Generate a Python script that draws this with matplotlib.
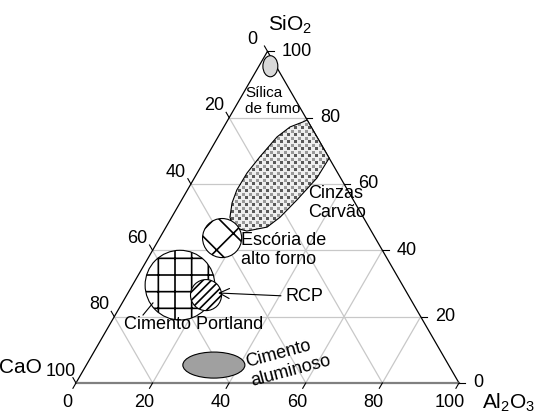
import numpy as np
import matplotlib
matplotlib.use("Agg")
import matplotlib.pyplot as plt
from matplotlib.patches import Polygon, Circle, Ellipse

plt.rcParams['font.family'] = ['Liberation Sans', 'DejaVu Sans']
plt.rcParams['mathtext.fontset'] = 'custom'
plt.rcParams['mathtext.rm'] = 'Liberation Sans'
plt.rcParams['mathtext.default'] = 'regular'
plt.rcParams['hatch.linewidth'] = 1.2

# grid / tick values (percent)
ticks = [0, 20, 40, 60, 80, 100]
grid_vals = [20, 40, 60, 80]

# regions, compositions given as (CaO, SiO2, Al2O3)
silica_center = (1.5, 95.5, 3.0)
silica_size = (3.9, 5.5)

cinzas_outline = [
    (0.0, 79.3, 20.7), (0.0, 67.8, 32.2), (6.2, 61.8, 32.0), (14.7, 55.2, 30.1),
    (21.7, 50.0, 28.3), (26.6, 47.0, 26.4), (32.5, 45.8, 21.7), (35.5, 47.0, 17.5),
    (34.8, 50.0, 15.2), (32.1, 54.3, 13.6), (28.9, 58.2, 12.9), (23.7, 63.3, 13.0),
    (18.0, 68.1, 13.9), (10.4, 74.2, 15.4), (5.5, 77.2, 17.3), (1.4, 78.7, 19.9),
]

escoria_center = (40.0, 43.7, 16.3)
escoria_radius = 5.1

portland_center = (58.1, 29.5, 12.4)
portland_radius = 9.1

rcp_center = (52.8, 26.5, 20.7)
rcp_radius = 4.05

aluminoso_center = (61.3, 5.4, 33.3)
aluminoso_size = (16.2, 6.8)


def tern(ca, si, al):
    s = ca + si + al
    si, al = si / s * 100, al / s * 100
    return al + si / 2, si * np.sqrt(3) / 2


fig = plt.figure(figsize=(5.38, 4.16), dpi=100)
ax = fig.add_axes([0, 0, 1, 1])
ax.set_xlim(-19.84, 120.63)
ax.set_ylim(-8.62, 100.0)
ax.axis('off')

# grid lines
gc = '#c8c8c8'
for v in grid_vals:
    # constant SiO2
    p, q = tern(100 - v, v, 0), tern(0, v, 100 - v)
    ax.plot([p[0], q[0]], [p[1], q[1]], color=gc, lw=0.9, zorder=1)
    # constant CaO
    p, q = tern(v, 100 - v, 0), tern(v, 0, 100 - v)
    ax.plot([p[0], q[0]], [p[1], q[1]], color=gc, lw=0.9, zorder=1)
    # constant Al2O3
    p, q = tern(100 - v, 0, v), tern(0, 100 - v, v)
    ax.plot([p[0], q[0]], [p[1], q[1]], color=gc, lw=0.9, zorder=1)

# triangle edges
A, B, C = tern(100, 0, 0), tern(0, 0, 100), tern(0, 100, 0)
ax.plot([A[0], C[0], B[0]], [A[1], C[1], B[1]], color='black', lw=0.9, zorder=3)
ax.plot([A[0], B[0]], [A[1], B[1]], color='#808080', lw=1.6, zorder=3)

# ticks and tick labels
tl = 1.6
tfs = 13
h = np.sqrt(3) / 2
for v in ticks:
    # CaO on the left edge
    x, y = tern(v, 100 - v, 0)
    ax.plot([x, x - 0.5 * tl], [y, y + h * tl], color='black', lw=0.8, zorder=3)
    ax.text(x - 3.9, y + 3.1, str(v), fontsize=tfs, ha='center', va='center')
    # SiO2 on the right edge
    x, y = tern(0, v, 100 - v)
    ax.plot([x, x + tl], [y, y], color='black', lw=0.8, zorder=3)
    ax.text(x + 3.65, y, str(v), fontsize=tfs, ha='left', va='center')
    # Al2O3 on the base
    x, y = tern(100 - v, 0, v)
    ax.plot([x, x - 0.5 * tl], [y, y - h * tl], color='black', lw=0.8, zorder=3)
    ax.text(x - 2.3, y - 5.2, str(v), fontsize=tfs, ha='center', va='center')

ax.text(55.8, 93.4, 'SiO$_2$', fontsize=15, ha='center', va='center')
ax.text(-14.6, 4.0, 'CaO', fontsize=15, ha='center', va='center')
ax.text(112.9, -5.3, 'Al$_2$O$_3$', fontsize=15, ha='center', va='center')

# silica fume
ax.add_patch(Ellipse(tern(*silica_center), *silica_size, facecolor='#d9d9d9',
                     edgecolor='black', lw=0.8, zorder=4))
ax.text(44.1, 73.6, 'Sílica\nde fumo', fontsize=11, ha='left', va='center', zorder=5)

# fly ash: dotted texture clipped to the outline
pts = [tern(*p) for p in cinzas_outline]
cinzas = Polygon(pts, closed=True, facecolor='none', edgecolor='black', lw=0.8, zorder=4)
ax.add_patch(cinzas)
H, W = 416, 538
jj, ii = np.meshgrid(np.arange(W), np.arange(H))
tex = np.full((H, W), 0.93)
tex[((ii % 7) < 3) & ((jj % 7) < 3)] = 0.35
tex[((ii % 7) >= 4) & ((ii % 7) < 7) & ((jj % 7) >= 4) & ((jj % 7) < 7)] = 0.6
im = ax.imshow(tex, cmap='gray', vmin=0, vmax=1, extent=(-19.84, 120.63, -8.62, 100.0),
               interpolation='nearest', origin='upper', zorder=3.5, aspect='auto')
im.set_clip_path(cinzas)
ax.text(60.6, 47.0, 'Cinzas\nCarvão', fontsize=13, ha='left', va='center', zorder=5)

# blast furnace slag
ax.add_patch(Circle(tern(*escoria_center), escoria_radius, facecolor='white',
                    edgecolor='black', hatch='x', lw=0.8, zorder=4))
ax.text(43.1, 34.7, 'Escória de\nalto forno', fontsize=13, ha='left', va='center', zorder=5)

# portland cement
ax.add_patch(Circle(tern(*portland_center), portland_radius, facecolor='white',
                    edgecolor='black', hatch='+', lw=0.8, zorder=4))
ax.text(12.5, 15.4, 'Cimento Portland', fontsize=13, ha='left', va='center', zorder=5)
ax.plot([17.5, 20.1], [17.75, 20.9], color='black', lw=0.8, zorder=5)

# RCP
rcp = Circle(tern(*rcp_center), rcp_radius, facecolor='white', edgecolor='black',
             hatch='////', lw=0.8, zorder=4.5)
ax.add_patch(rcp)
ax.annotate('RCP', xy=(37.1, 23.5), xytext=(54.6, 22.5), fontsize=13, ha='left',
            va='center', zorder=5,
            arrowprops=dict(arrowstyle='->', color='black', lw=0.8,
                            mutation_scale=18, shrinkA=1, shrinkB=0))

# calcium aluminate cement
ax.add_patch(Ellipse(tern(*aluminoso_center), *aluminoso_size, facecolor='#a0a0a0',
                     edgecolor='black', lw=0.8, zorder=4))
ax.text(55.3, 5.6, 'Cimento\naluminoso', fontsize=13, ha='center', va='center',
        multialignment='left', rotation=15, rotation_mode='anchor', zorder=5)

fig.savefig('out.png', dpi=100)
